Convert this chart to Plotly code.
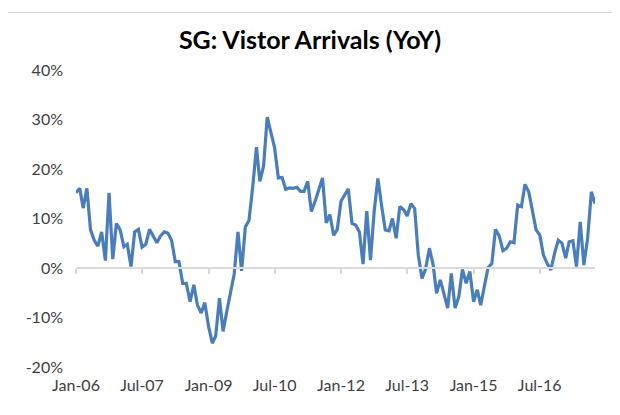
import pandas as pd
import plotly.graph_objects as go

# Monthly YoY growth of Singapore visitor arrivals (%), Jan-2006 onward
yoy = [
    15.2, 16.1, 12.1, 16.1, 7.7, 5.6, 4.4, 7.3, 1.5, 15.2, 1.8, 9.0,
    7.7, 4.3, 4.8, 0.3, 7.3, 7.8, 4.2, 4.8, 7.8, 6.3, 5.1, 6.5,
    7.3, 7.0, 5.6, 1.3, 1.3, -3.1, -3.1, -6.8, -3.4, -7.5, -9.1, -7.0,
    -11.8, -15.2, -13.7, -6.1, -12.8, -8.7, -5.2, -1.2, 7.3, -0.6, 8.3, 9.6,
    16.4, 24.4, 17.5, 20.6, 30.5, 27.2, 24.3, 18.2, 18.3, 15.9, 16.2, 16.1,
    16.3, 15.5, 15.5, 17.5, 11.4, 13.5, 16.0, 18.2, 9.1, 10.8, 6.6, 7.8,
    13.5, 14.7, 16.0, 9.0, 8.7, 7.3, 0.8, 11.5, 1.6, 11.4, 18.1, 12.7,
    7.7, 7.5, 10.0, 6.0, 12.4, 11.8, 10.5, 13.0, 12.0, 2.6, -2.1, -0.1,
    4.0, 0.6, -5.1, -2.4, -5.1, -8.1, -1.1, -8.1, -5.8, -0.3, -3.1, -0.7,
    -6.8, -4.4, -7.5, -3.4, 0.1, 0.9, 7.8, 6.5, 3.5, 4.0, 5.3, 5.1,
    12.7, 12.4, 16.9, 15.4, 11.7, 7.7, 6.7, 2.6, 0.9, -0.4, 3.0, 5.6,
    5.0, 2.0, 5.3, 5.5, 0.3, 9.3, 0.6, 6.0, 15.4, 13.0,
]
months = pd.date_range("2006-01-01", periods=len(yoy), freq="MS")

tick_dates = ["2006-01-01", "2007-07-01", "2009-01-01", "2010-07-01",
              "2012-01-01", "2013-07-01", "2015-01-01", "2016-07-01"]
tick_labels = ["Jan-06", "Jul-07", "Jan-09", "Jul-10",
               "Jan-12", "Jul-13", "Jan-15", "Jul-16"]
y_ticks = [-20, -10, 0, 10, 20, 30, 40]
y_labels = ["-20%", "-10%", "0%", "10%", "20%", "30%", "40%"]

FONT = "Lato, 'Open Sans', sans-serif"
x_range = [months[0], months[-1]]

fig = go.Figure()
fig.add_trace(go.Scatter(
    x=months, y=yoy, mode="lines",
    line=dict(color="#4a7ebb", width=3.2),
    hoverinfo="x+y", showlegend=False,
))

fig.update_layout(
    width=620, height=415,
    margin=dict(l=68, r=33, t=62, b=56),
    paper_bgcolor="white", plot_bgcolor="white",
    font=dict(family=FONT, size=16, color="#404040"),
    title=dict(text="<b>SG: Vistor Arrivals (YoY)</b>",
               x=302 / 620, xref="container", xanchor="center",
               y=1 - 32 / 415, yref="container", yanchor="middle",
               font=dict(family=FONT, size=25, color="#000000")),
    xaxis=dict(type="date", range=x_range, anchor="free", position=1/3,
               showline=True, linecolor="#d9d9d9", linewidth=1.5,
               ticks="outside", ticklen=5, tickcolor="#d9d9d9", tickwidth=1.5,
               tickvals=tick_dates, showticklabels=False,
               showgrid=False, zeroline=False),
    xaxis2=dict(type="date", range=x_range, overlaying="x", anchor="y",
                side="bottom", showline=False, ticks="",
                tickvals=tick_dates, ticktext=tick_labels,
                ticklabelstandoff=7, showgrid=False, zeroline=False),
    yaxis=dict(range=[-20, 40], tickvals=y_ticks, ticktext=y_labels,
               showline=False, showgrid=False, zeroline=False, ticks="",
               ticklabelstandoff=12),
    shapes=[dict(type="rect", xref="paper", yref="paper",
                 x0=-0.132, x1=1.06, y0=-0.18, y1=1.1936,
                 line=dict(color="#d9d9d9", width=1), fillcolor="rgba(0,0,0,0)",
                 layer="below")],
)
# invisible trace so the second (label) x axis is drawn
fig.add_trace(go.Scatter(x=[months[0]], y=[None], xaxis="x2", yaxis="y",
                         showlegend=False, hoverinfo="skip"))

fig.write_html("out.html")
